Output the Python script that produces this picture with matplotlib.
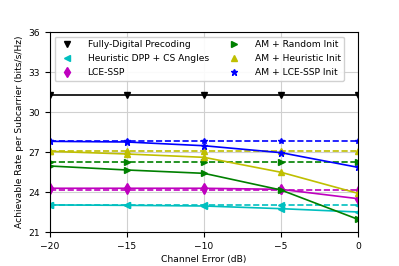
import matplotlib
matplotlib.use("Agg")
import matplotlib.pyplot as plt
from matplotlib.lines import Line2D

x = [-20, -15, -10, -5, 0]
fully_digital = [31.25, 31.25, 31.25, 31.25, 31.25]
heuristic = [23.03, 23.0, 22.95, 22.75, 22.5]
heuristic_ref = [23.03, 23.03, 23.03, 23.03, 23.03]
lce_ssp = [24.28, 24.28, 24.28, 24.2, 23.5]
lce_ssp_ref = [24.13, 24.13, 24.13, 24.13, 24.13]
am_random = [25.95, 25.65, 25.4, 24.15, 21.95]
am_random_ref = [26.22, 26.22, 26.22, 26.22, 26.22]
am_heur = [27.05, 26.85, 26.6, 25.48, 23.9]
am_heur_ref = [27.07, 27.07, 27.07, 27.07, 27.07]
am_lce = [27.8, 27.75, 27.47, 26.95, 25.85]
am_lce_ref = [27.82, 27.82, 27.82, 27.82, 27.82]

labels = ["Fully-Digital Precoding", "Heuristic DPP + CS Angles", "LCE-SSP",
          "AM + Random Init", "AM + Heuristic Init", "AM + LCE-SSP Init"]
colors = ["k", "c", "m", "g", "y", "b"]
markers = ["v", "<", "d", ">", "^", "*"]

plt.rcParams['font.size'] = 6.6
fig = plt.figure(figsize=(3.99, 2.66), dpi=100)
ax = fig.add_axes([50/399, 1 - 232/266, 308/399, 200/266])

solid = [fully_digital, heuristic, lce_ssp, am_random, am_heur, am_lce]
dashed = [None, heuristic_ref, lce_ssp_ref, am_random_ref, am_heur_ref, am_lce_ref]
for s, d, c, m in zip(solid, dashed, colors, markers):
    if d is not None:
        ax.plot(x, d, color=c, linestyle='--', marker=m, markersize=4, linewidth=1.2)
    ax.plot(x, s, color=c, linestyle='-', marker=m, markersize=5, linewidth=1.2)

ax.set_xlim(-20, 0)
ax.set_ylim(21, 36)
ax.set_xticks([-20, -15, -10, -5, 0])
ax.set_yticks([21, 24, 27, 30, 33, 36])
ax.grid(True, color='#d0d0d0', linewidth=0.8)
ax.set_xlabel("Channel Error (dB)", labelpad=3)
ax.set_ylabel("Achievable Rate per Subcarrier (bits/s/Hz)", labelpad=3)

handles = [Line2D([], [], color=c, marker=m, linestyle='None', markersize=5)
           for c, m in zip(colors, markers)]
ax.legend(handles, labels, ncol=2, loc='upper left', fontsize=6.6,
          framealpha=0.9, handletextpad=1.2, columnspacing=1.8,
          borderaxespad=0.5, labelspacing=0.55)

fig.savefig("out.png", dpi=100)
